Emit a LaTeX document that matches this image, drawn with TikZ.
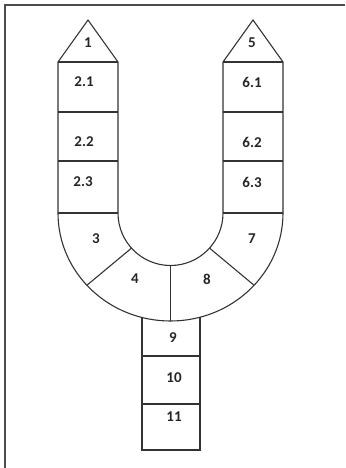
\documentclass[tikz,border=0pt]{standalone}
\usepackage{fontspec}
\setmainfont{Carlito}
\usepackage{tikz}
\usetikzlibrary{calc}

\tikzset{
	lbl/.style={font=\fontsize{15}{17}\selectfont\bfseries, text=black!85, inner sep=0pt},
	part/.style={draw=black!80, line width=1.1pt},
	frame/.style={draw=black!70, line width=1.4pt}
}

\begin{document}
\begin{tikzpicture}[x=1pt,y=-1pt]

	\useasboundingbox (0,0) rectangle (345,468);

	\coordinate (C) at (170.5,213);
	\coordinate (T1) at (88,20);
	\coordinate (T5) at (253,20);

	% Draw frame
	\draw[frame] (345,5) -- (5,5) -- (5,468);

	% Draw roofs
	\draw[part] (58,62) -- (T1) -- (118,62);
	\draw[part] (223,62) -- (T5) -- (283,62);

	% Draw the U
	\draw[part] (58,62) -- (58,213) arc[start angle=180, end angle=0, x radius=112.5, y radius=108] -- (283,62);
	\draw[part] (118,62) -- (118,213) arc[start angle=180, end angle=0, radius=52.5] -- (223,62);

	% Draw horizontal lines
	\foreach \y in {62,112,161,213}{
		\draw[part] (58,\y) -- (118,\y);
		\draw[part] (223,\y) -- (283,\y);
	}

	% Draw radial lines
	\draw[part] ($(C)+(138:52.5)$) -- ($(C)+({112.5*cos(138)},{108*sin(138)})$);
	\draw[part] ($(C)+(42:52.5)$) -- ($(C)+({112.5*cos(42)},{108*sin(42)})$);
	\draw[part] ($(C)+(90:52.5)$) -- ($(C)+(0,108)$);

	% Draw stem
	\draw[part] (142,317.5) -- (142,450) -- (200,450) -- (200,317.3);
	\draw[part] (142,356) -- (200,356);
	\draw[part] (142,404) -- (200,404);

	\node[lbl] (n1) at (88,43) {1};
	\node[lbl] (n21) at (84,82) {2.1};
	\node[lbl] (n22) at (84,142) {2.2};
	\node[lbl] (n23) at (83,182) {2.3};
	\node[lbl] (n3) at (96,239) {3};
	\node[lbl] (n4) at (135,279) {4};
	\node[lbl] (n5) at (252,43) {5};
	\node[lbl] (n61) at (252,82) {6.1};
	\node[lbl] (n62) at (252,142) {6.2};
	\node[lbl] (n63) at (252,182) {6.3};
	\node[lbl] (n7) at (252,239) {7};
	\node[lbl] (n8) at (207,279) {8};
	\node[lbl] (n9) at (173,338) {9};
	\node[lbl] (n10) at (174,378) {10};
	\node[lbl] (n11) at (174,417) {11};

\end{tikzpicture}
\end{document}
